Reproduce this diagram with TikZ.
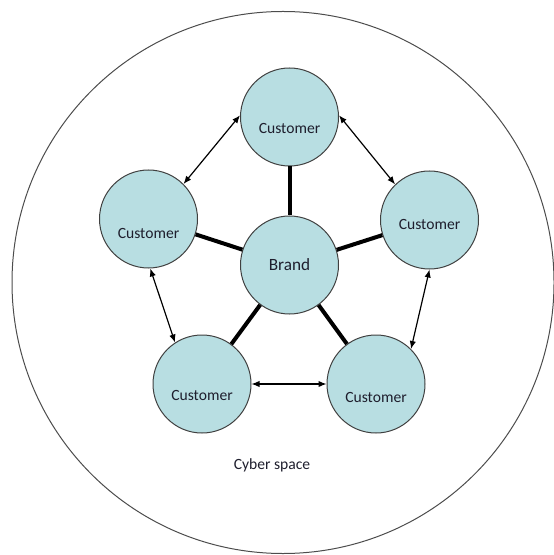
\documentclass[tikz,border=0pt]{standalone}
\usepackage{fontspec}
\setmainfont{Carlito}
\usetikzlibrary{arrows.meta}
\definecolor{cfill}{RGB}{184,222,226}
\definecolor{ctxt}{RGB}{30,30,45}
\begin{document}
\begin{tikzpicture}[x=0.75pt,y=-0.75pt,
  cnode/.style={circle,draw=black!75,line width=0.75pt,fill=cfill,minimum size=73.5pt,inner sep=0pt},
  ctext/.style={font=\fontsize{11.7}{14}\selectfont,text=ctxt},
  link/.style={line width=3pt,black},
  peer/.style={line width=0.9pt,black,{Latex[length=6pt,width=4.8pt]}-{Latex[length=6pt,width=4.8pt]}}]
\useasboundingbox (0,0) rectangle (553,555);
\node[circle,draw=black!70,line width=0.75pt,minimum size=406.5pt,inner sep=0pt] (space) at (283,282.5) {};
\node[ctext] (cyber) at (272,465) {Cyber space};

\node[cnode,label={[ctext,yshift=-8.25pt]center:Customer}] (top) at (289.5,117) {};
\node[cnode,label={[ctext,yshift=-10.5pt]center:Customer}] (left) at (148.5,219) {};
\node[cnode,label={[ctext,yshift=-3pt]center:Customer}] (right) at (429.5,220) {};
\node[cnode,label={[ctext,yshift=-8.25pt]center:Customer}] (bl) at (202,384) {};
\node[cnode,label={[ctext,yshift=-9.75pt]center:Customer}] (br) at (376,384) {};
\node[cnode,font=\fontsize{12.9}{15}\selectfont,text=ctxt] (brand) at (289.5,265) {Brand};

\draw[link] (brand) -- (top);
\draw[link] (brand) -- (left);
\draw[link] (brand) -- (right);
\draw[link] (brand) -- (bl);
\draw[link] (brand) -- (br);

\draw[peer] (top.178) -- (left.45);
\draw[peer] (top.2) -- (right.134);
\draw[peer] (left.-88) -- (bl.123);
\draw[peer] (bl.0) -- (br.180);
\draw[peer] (right.-90) -- (br.45);
\end{tikzpicture}
\end{document}
